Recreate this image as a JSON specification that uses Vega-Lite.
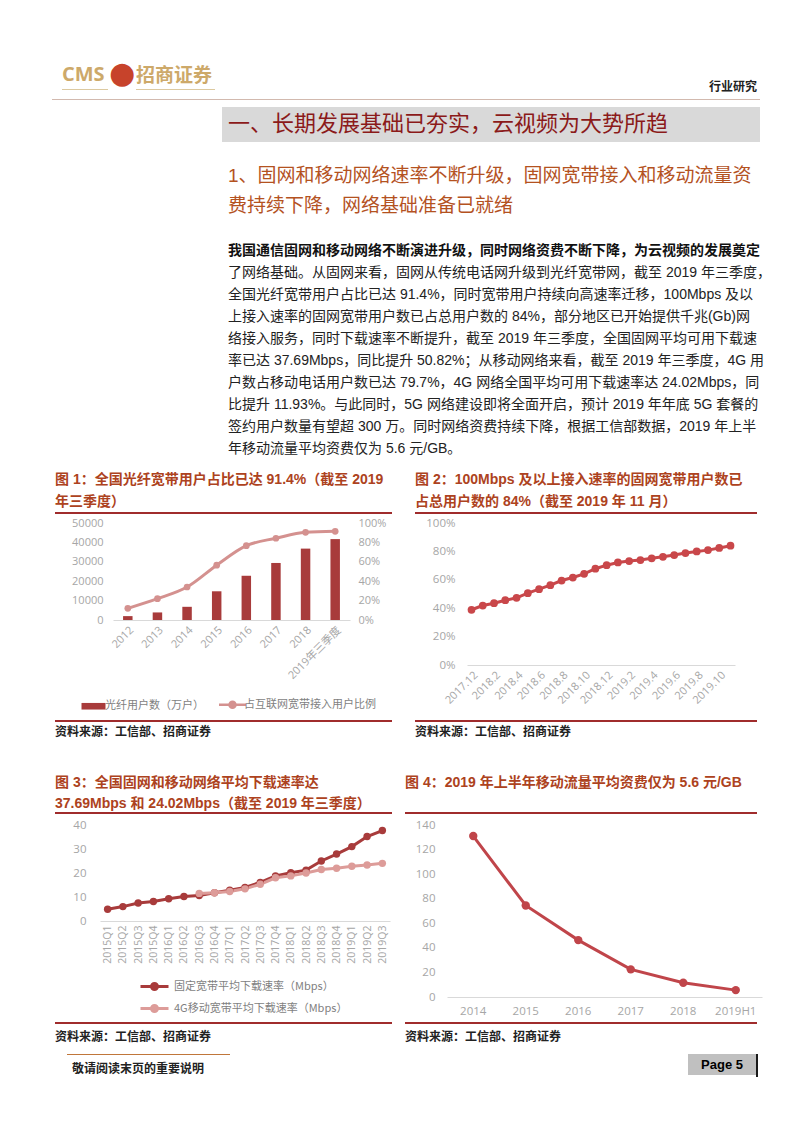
{
 "$schema": "https://vega.github.io/schema/vega-lite/v6.json",
 "background": "white",
 "padding": {"left": 52, "top": 59, "right": 10, "bottom": 10},
 "data": {"values": [{}]},
 "spacing": 0,
 "resolve": {"scale": {"color": "independent"}, "legend": {"color": "independent"}},
 "config": {
  "view": {"stroke": null},
  "font": "Liberation Sans, Noto Sans CJK SC",
  "point": {"size": 0, "filled": true, "opacity": 0},
  "title": {"font": "Liberation Sans, Noto Sans CJK SC", "subtitleFont": "Liberation Sans, Noto Sans CJK SC", "frame": "group", "anchor": "start", "orient": "top"},
  "axis": {"labelFont": "Open Sans, Noto Sans CJK SC", "labelColor": "#a6a6a6", "grid": false, "ticks": false, "domainColor": "#d9d9d9"},
  "axisY": {"domain": false},
  "legend": {"labelFont": "Noto Sans CJK SC", "labelColor": "#7f7f7f", "labelFontSize": 11, "labelLimit": 260,
   "layout": {"offset": 13, "direction": "horizontal", "anchor": "middle", "left": {"direction": "vertical"}, "right": {"direction": "vertical"}, "bottom": {"anchor": "middle", "offset": 13}}}
 },
 "vconcat": [
  {"spacing": 0, "bounds": "flush", "hconcat": [
   {"width": 10, "height": 1, "mark": "point"},
   {"width": 46, "height": 1, "view": {"fill": "#dcc9a0"}, "mark": "point", "title": {"text": "CMS", "offset": 4, "fontSize": 20, "fontWeight": "bold", "color": "#cda96a", "font": "Open Sans"}},
   {"width": 28, "height": 1, "mark": "point", "title": {"text": "●", "anchor": "middle", "offset": 0, "fontSize": 30, "color": "#c7432b", "font": "DejaVu Sans"}},
   {"width": 79, "height": 1, "view": {"fill": "#dcc9a0"}, "mark": "point", "title": {"text": "招商证券", "offset": 3, "fontSize": 19, "fontWeight": "bold", "color": "#cda96a", "font": "Noto Sans CJK SC"}},
   {"width": 545, "height": 1, "mark": "point", "title": {"text": "行业研究", "anchor": "end", "offset": -5, "dx": -3, "fontSize": 12, "fontWeight": "bold", "color": "#222222", "font": "Noto Sans CJK SC"}}
  ]},
  {"width": 1, "height": 6, "mark": "point"},
  {"width": 708, "height": 1, "view": {"fill": "#d2b9ae"}, "mark": "point"},
  {"width": 1, "height": 7, "mark": "point"},
  {"spacing": 0, "bounds": "flush", "hconcat": [
   {"width": 170, "height": 35, "mark": "point"},
   {"width": 538, "height": 35, "view": {"fill": "#d9d9d9"}, "mark": "point", "title": {"text": "一、长期发展基础已夯实，云视频为大势所趋", "offset": -28.5, "dx": 6, "fontSize": 22, "fontWeight": "normal", "color": "#8b1a1a", "font": "Noto Sans CJK SC"}}
  ]},
  {"width": 1, "height": 25, "mark": "point"},
  {"spacing": 0, "bounds": "flush", "hconcat": [
   {"width": 176, "height": 1, "mark": "point"},
   {"width": 532, "height": 1, "mark": "point", "title": {"text": ["1、固网和移动网络速率不断升级，固网宽带接入和移动流量资", "费持续下降，网络基础准备已就绪"], "offset": 0, "fontSize": 19, "lineHeight": 30, "fontWeight": "normal", "color": "#b4521f"}}
  ]},
  {"width": 1, "height": 27, "mark": "point"},
  {"spacing": 0, "bounds": "flush", "hconcat": [
   {"width": 176, "height": 1, "mark": "point"},
   {"width": 532, "height": 1, "mark": "point", "title": {
     "text": "我国通信固网和移动网络不断演进升级，同时网络资费不断下降，为云视频的发展奠定",
     "subtitle": [
      "了网络基础。从固网来看，固网从传统电话网升级到光纤宽带网，截至 2019 年三季度，",
      "全国光纤宽带用户占比已达 91.4%，同时宽带用户持续向高速率迁移，100Mbps 及以",
      "上接入速率的固网宽带用户数已占总用户数的 84%，部分地区已开始提供千兆(Gb)网",
      "络接入服务，同时下载速率不断提升，截至 2019 年三季度，全国固网平均可用下载速",
      "率已达 37.69Mbps，同比提升 50.82%；从移动网络来看，截至 2019 年三季度，4G 用",
      "户数占移动电话用户数已达 79.7%，4G 网络全国平均可用下载速率达 24.02Mbps，同",
      "比提升 11.93%。与此同时，5G 网络建设即将全面开启，预计 2019 年年底 5G 套餐的",
      "签约用户数量有望超 300 万。同时网络资费持续下降，根据工信部数据，2019 年上半",
      "年移动流量平均资费仅为 5.6 元/GB。"
     ],
     "offset": 0, "fontSize": 14, "fontWeight": "bold", "color": "#111111",
     "subtitleFontSize": 14, "subtitleLineHeight": 22, "subtitlePadding": 8, "subtitleColor": "#222222", "subtitleFontWeight": "normal"}}
  ]},
  {"width": 1, "height": 16, "mark": "point"},
  {"spacing": 0, "bounds": "flush", "hconcat": [
   {"width": 3, "height": 2, "mark": "point"},
   {"width": 337, "height": 2, "view": {"fill": "#a02c2c"}, "mark": "point", "title": {"text": ["图 1：全国光纤宽带用户占比已达 91.4%（截至 2019", "年三季度）"], "offset": 3, "fontSize": 14, "lineHeight": 22, "fontWeight": "bold", "color": "#ad4220"}},
   {"width": 23, "height": 2, "mark": "point"},
   {"width": 342, "height": 2, "view": {"fill": "#a02c2c"}, "mark": "point", "title": {"text": ["图 2：100Mbps 及以上接入速率的固网宽带用户数已", "占总用户数的 84%（截至 2019 年 11 月）"], "offset": 3, "fontSize": 14, "lineHeight": 22, "fontWeight": "bold", "color": "#ad4220"}}
  ]},
  {"width": 1, "height": 3, "mark": "point"},
  {"spacing": 0, "bounds": "flush", "resolve": {"scale": {"color": "independent"}, "legend": {"color": "independent"}}, "hconcat": [
   {"width": 61, "height": 97, "mark": "point"},
   {
    "width": 237, "height": 97,
    "data": {"values": [
     {"year": "2012", "users": 2000, "ratio": 0.12},
     {"year": "2013", "users": 3900, "ratio": 0.22},
     {"year": "2014", "users": 6800, "ratio": 0.34},
     {"year": "2015", "users": 14800, "ratio": 0.565},
     {"year": "2016", "users": 22800, "ratio": 0.766},
     {"year": "2017", "users": 29400, "ratio": 0.843},
     {"year": "2018", "users": 36800, "ratio": 0.904},
     {"year": "2019年三季度", "users": 41700, "ratio": 0.914}
    ]},
    "encoding": {"x": {"field": "year", "type": "nominal", "sort": null, "title": null,
      "scale": {"paddingInner": 0.68, "paddingOuter": 0.34},
      "axis": {"labelAngle": -45, "labelFontSize": 11, "labelPadding": 4}}},
    "layer": [
     {"mark": {"type": "bar"},
      "encoding": {
       "y": {"field": "users", "type": "quantitative", "title": null, "scale": {"domain": [0, 50000]}, "axis": {"values": [0, 10000, 20000, 30000, 40000, 50000], "format": "d", "labelFontSize": 11, "labelPadding": 10}},
       "color": {"datum": "光纤用户数（万户）", "type": "nominal",
        "scale": {"domain": ["光纤用户数（万户）", "占互联网宽带接入用户比例"], "range": ["#a83b3b", "#d4918f"]},
        "legend": {"orient": "bottom", "direction": "horizontal", "title": null, "offset": 18, "symbolSize": 400, "columnPadding": 10, "labelOffset": 6,
         "encode": {"symbols": {"update": {
          "shape": {"signal": "datum.value === '光纤用户数（万户）' ? 'M-1.2,-0.33H1.2V0.33H-1.2Z' : 'M-1.35,0H1.35M-0.3,0A0.3,0.3,0,1,1,0.3,0A0.3,0.3,0,1,1,-0.3,0'"},
          "fill": {"signal": "datum.value === '光纤用户数（万户）' ? '#a83b3b' : '#d4918f'"},
          "stroke": {"signal": "datum.value === '光纤用户数（万户）' ? '#a83b3b' : '#d4918f'"},
          "strokeWidth": {"signal": "datum.value === '光纤用户数（万户）' ? 0 : 2.5"},
          "opacity": {"value": 1}
         }}}}}
      }},
     {"mark": {"type": "line", "strokeWidth": 3, "interpolate": "monotone", "point": {"filled": true, "size": 45, "opacity": 1}},
      "encoding": {
       "y": {"field": "ratio", "type": "quantitative", "title": null, "scale": {"domain": [0, 1]}, "axis": {"orient": "right", "values": [0, 0.2, 0.4, 0.6, 0.8, 1], "format": ".0%", "labelFontSize": 11, "labelPadding": 8}},
       "color": {"datum": "占互联网宽带接入用户比例", "type": "nominal"}
      }}
    ],
    "resolve": {"scale": {"y": "independent"}}
   },
   {"width": 117, "height": 97, "mark": "point"},
   {
    "width": 268, "height": 142,
    "data": {"values": [
     {"m": "2017.12", "v": 0.389}, {"m": "2018.1", "v": 0.419}, {"m": "2018.2", "v": 0.435}, {"m": "2018.3", "v": 0.456},
     {"m": "2018.4", "v": 0.473}, {"m": "2018.5", "v": 0.506}, {"m": "2018.6", "v": 0.534}, {"m": "2018.7", "v": 0.562},
     {"m": "2018.8", "v": 0.595}, {"m": "2018.9", "v": 0.616}, {"m": "2018.10", "v": 0.642}, {"m": "2018.11", "v": 0.678},
     {"m": "2018.12", "v": 0.703}, {"m": "2019.1", "v": 0.722}, {"m": "2019.2", "v": 0.732}, {"m": "2019.3", "v": 0.739},
     {"m": "2019.4", "v": 0.751}, {"m": "2019.5", "v": 0.762}, {"m": "2019.6", "v": 0.774}, {"m": "2019.7", "v": 0.788},
     {"m": "2019.8", "v": 0.8}, {"m": "2019.9", "v": 0.809}, {"m": "2019.10", "v": 0.824}, {"m": "2019.11", "v": 0.84}
    ]},
    "mark": {"type": "line", "color": "#c9474a", "strokeWidth": 3, "point": {"filled": true, "size": 60, "opacity": 1, "color": "#c9474a"}},
    "encoding": {
     "x": {"field": "m", "type": "nominal", "sort": null, "title": null, "scale": {"type": "point", "padding": 0.4},
      "axis": {"values": ["2017.12", "2018.2", "2018.4", "2018.6", "2018.8", "2018.10", "2018.12", "2019.2", "2019.4", "2019.6", "2019.8", "2019.10"], "labelAngle": -45, "labelFontSize": 11, "labelPadding": 4}},
     "y": {"field": "v", "type": "quantitative", "title": null, "scale": {"domain": [0, 1]}, "axis": {"values": [0, 0.2, 0.4, 0.6, 0.8, 1], "format": ".0%", "labelFontSize": 11.5, "labelPadding": 12}}
    }
   }
  ]},
  {"width": 1, "height": 7, "mark": "point"},
  {"spacing": 0, "bounds": "flush", "hconcat": [
   {"width": 3, "height": 2, "mark": "point"},
   {"width": 337, "height": 2, "view": {"fill": "#a02c2c"}, "mark": "point", "title": {"text": "资料来源：工信部、招商证券", "orient": "bottom", "offset": 5, "fontSize": 12, "color": "#222222", "font": "Noto Sans CJK SC"}},
   {"width": 23, "height": 2, "mark": "point"},
   {"width": 342, "height": 2, "view": {"fill": "#a02c2c"}, "mark": "point", "title": {"text": "资料来源：工信部、招商证券", "orient": "bottom", "offset": 5, "fontSize": 12, "color": "#222222", "font": "Noto Sans CJK SC"}}
  ]},
  {"width": 1, "height": 38, "mark": "point"},
  {"spacing": 0, "bounds": "flush", "hconcat": [
   {"width": 3, "height": 2, "mark": "point"},
   {"width": 337, "height": 2, "view": {"fill": "#a02c2c"}, "mark": "point", "title": {"text": ["图 3：全国固网和移动网络平均下载速率达", "37.69Mbps 和 24.02Mbps（截至 2019 年三季度）"], "offset": 1, "fontSize": 14, "lineHeight": 21, "fontWeight": "bold", "color": "#ad4220"}},
   {"width": 13, "height": 2, "mark": "point"},
   {"width": 352, "height": 2, "view": {"fill": "#a02c2c"}, "mark": "point", "title": {"text": "图 4：2019 年上半年移动流量平均资费仅为 5.6 元/GB", "offset": 22, "fontSize": 14, "fontWeight": "bold", "color": "#ad4220"}}
  ]},
  {"width": 1, "height": 5, "mark": "point"},
  {"spacing": 0, "bounds": "flush", "resolve": {"scale": {"color": "independent"}, "legend": {"color": "independent"}}, "hconcat": [
   {"width": 48, "height": 96, "mark": "point"},
   {
    "width": 290, "height": 96,
    "data": {"values": [
     {"q": "2015Q1", "s": "固定宽带平均下载速率（Mbps）", "v": 4.9},
     {"q": "2015Q2", "s": "固定宽带平均下载速率（Mbps）", "v": 6.0},
     {"q": "2015Q3", "s": "固定宽带平均下载速率（Mbps）", "v": 7.5},
     {"q": "2015Q4", "s": "固定宽带平均下载速率（Mbps）", "v": 8.1},
     {"q": "2016Q1", "s": "固定宽带平均下载速率（Mbps）", "v": 9.3},
     {"q": "2016Q2", "s": "固定宽带平均下载速率（Mbps）", "v": 10.2},
     {"q": "2016Q3", "s": "固定宽带平均下载速率（Mbps）", "v": 10.6},
     {"q": "2016Q4", "s": "固定宽带平均下载速率（Mbps）", "v": 11.8},
     {"q": "2017Q1", "s": "固定宽带平均下载速率（Mbps）", "v": 12.8},
     {"q": "2017Q2", "s": "固定宽带平均下载速率（Mbps）", "v": 14.0},
     {"q": "2017Q3", "s": "固定宽带平均下载速率（Mbps）", "v": 16.1},
     {"q": "2017Q4", "s": "固定宽带平均下载速率（Mbps）", "v": 18.8},
     {"q": "2018Q1", "s": "固定宽带平均下载速率（Mbps）", "v": 20.1},
     {"q": "2018Q2", "s": "固定宽带平均下载速率（Mbps）", "v": 21.2},
     {"q": "2018Q3", "s": "固定宽带平均下载速率（Mbps）", "v": 25.0},
     {"q": "2018Q4", "s": "固定宽带平均下载速率（Mbps）", "v": 27.9},
     {"q": "2019Q1", "s": "固定宽带平均下载速率（Mbps）", "v": 31.0},
     {"q": "2019Q2", "s": "固定宽带平均下载速率（Mbps）", "v": 35.2},
     {"q": "2019Q3", "s": "固定宽带平均下载速率（Mbps）", "v": 37.69},
     {"q": "2016Q3", "s": "4G移动宽带平均下载速率（Mbps）", "v": 11.5},
     {"q": "2016Q4", "s": "4G移动宽带平均下载速率（Mbps）", "v": 11.8},
     {"q": "2017Q1", "s": "4G移动宽带平均下载速率（Mbps）", "v": 12.3},
     {"q": "2017Q2", "s": "4G移动宽带平均下载速率（Mbps）", "v": 13.4},
     {"q": "2017Q3", "s": "4G移动宽带平均下载速率（Mbps）", "v": 15.3},
     {"q": "2017Q4", "s": "4G移动宽带平均下载速率（Mbps）", "v": 18.0},
     {"q": "2018Q1", "s": "4G移动宽带平均下载速率（Mbps）", "v": 18.8},
     {"q": "2018Q2", "s": "4G移动宽带平均下载速率（Mbps）", "v": 20.0},
     {"q": "2018Q3", "s": "4G移动宽带平均下载速率（Mbps）", "v": 21.46},
     {"q": "2018Q4", "s": "4G移动宽带平均下载速率（Mbps）", "v": 22.0},
     {"q": "2019Q1", "s": "4G移动宽带平均下载速率（Mbps）", "v": 22.8},
     {"q": "2019Q2", "s": "4G移动宽带平均下载速率（Mbps）", "v": 23.3},
     {"q": "2019Q3", "s": "4G移动宽带平均下载速率（Mbps）", "v": 24.02}
    ]},
    "mark": {"type": "line", "strokeWidth": 3, "point": {"filled": true, "size": 55, "opacity": 1}},
    "encoding": {
     "x": {"field": "q", "type": "nominal", "sort": null, "title": null, "scale": {"type": "point", "padding": 0.5},
      "axis": {"labelAngle": -90, "labelFontSize": 10.5, "labelPadding": 4}},
     "y": {"field": "v", "type": "quantitative", "title": null, "scale": {"domain": [0, 40]}, "axis": {"values": [0, 10, 20, 30, 40], "labelFontSize": 11.5, "labelPadding": 14}},
     "color": {"field": "s", "type": "nominal", "sort": null,
      "scale": {"domain": ["固定宽带平均下载速率（Mbps）", "4G移动宽带平均下载速率（Mbps）"], "range": ["#a83b3b", "#dd9c99"]},
      "legend": {"orient": "bottom", "direction": "vertical", "title": null, "offset": 11, "symbolSize": 400, "rowPadding": 1, "labelOffset": 8, "labelLimit": 260,
       "encode": {"symbols": {"update": {
        "shape": {"value": "M-1.4,0H1.4M-0.3,0A0.3,0.3,0,1,1,0.3,0A0.3,0.3,0,1,1,-0.3,0"},
        "fill": {"signal": "datum.value === '固定宽带平均下载速率（Mbps）' ? '#a83b3b' : '#dd9c99'"},
        "stroke": {"signal": "datum.value === '固定宽带平均下载速率（Mbps）' ? '#a83b3b' : '#dd9c99'"},
        "strokeWidth": {"value": 3},
        "opacity": {"value": 1}
       }}}}}
    }
   },
   {"width": 57, "height": 96, "mark": "point"},
   {
    "width": 315, "height": 172,
    "data": {"values": [
     {"y": "2014", "v": 131}, {"y": "2015", "v": 74.5}, {"y": "2016", "v": 46.3},
     {"y": "2017", "v": 22.5}, {"y": "2018", "v": 11.6}, {"y": "2019H1", "v": 5.6}
    ]},
    "mark": {"type": "line", "color": "#c0454a", "strokeWidth": 3, "point": {"filled": true, "size": 70, "opacity": 1, "color": "#c0454a"}},
    "encoding": {
     "x": {"field": "y", "type": "nominal", "sort": null, "title": null, "scale": {"type": "band", "paddingInner": 0, "paddingOuter": 0},
      "axis": {"labelAngle": 0, "labelFontSize": 11.5, "labelPadding": 8}},
     "y": {"field": "v", "type": "quantitative", "title": null, "scale": {"domain": [0, 140]}, "axis": {"values": [0, 20, 40, 60, 80, 100, 120, 140], "labelFontSize": 11.5, "labelPadding": 12}}
    }
   }
  ]},
  {"width": 1, "height": 4, "mark": "point"},
  {"spacing": 0, "bounds": "flush", "hconcat": [
   {"width": 3, "height": 2, "mark": "point"},
   {"width": 337, "height": 2, "view": {"fill": "#a02c2c"}, "mark": "point", "title": {"text": "资料来源：工信部、招商证券", "orient": "bottom", "offset": 8, "fontSize": 12, "color": "#222222", "font": "Noto Sans CJK SC"}},
   {"width": 13, "height": 2, "mark": "point"},
   {"width": 352, "height": 2, "view": {"fill": "#a02c2c"}, "mark": "point", "title": {"text": "资料来源：工信部、招商证券", "orient": "bottom", "offset": 8, "fontSize": 12, "color": "#222222", "font": "Noto Sans CJK SC"}}
  ]},
  {"width": 1, "height": 11, "mark": "point"},
  {"spacing": 0, "bounds": "flush", "hconcat": [
   {"width": 15, "height": 1, "mark": "point"},
   {"width": 163, "height": 1, "view": {"fill": "#c0763a"}, "mark": "point", "title": {"text": "敬请阅读末页的重要说明", "orient": "bottom", "offset": 9, "dx": 5, "fontSize": 12, "color": "#222222", "font": "Noto Sans CJK SC"}},
   {"width": 458, "height": 1, "mark": "point"},
   {"width": 68, "height": 21, "view": {"fill": "#c0c0c0"}, "mark": {"type": "text", "font": "Liberation Sans", "fontWeight": "bold", "fontSize": 13, "color": "#000000"}, "encoding": {"text": {"value": "Page 5"}}},
   {"width": 2, "height": 23, "view": {"fill": "#1a1a1a"}, "mark": "point"}
  ]}
 ]
}
